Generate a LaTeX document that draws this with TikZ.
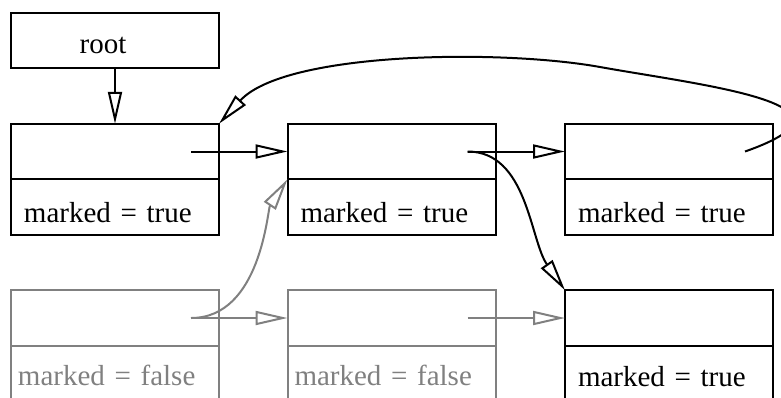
\documentclass[tikz,border=0pt]{standalone}
\usepackage{fontspec}
\setmainfont{Liberation Serif}
\usetikzlibrary{arrows.meta}
\definecolor{oldgray}{RGB}{128,128,128}
\tikzset{>={Triangle[open,length=16pt,width=7pt]}}
\tikzset{
  cell/.style={draw, line width=1pt, minimum width=104pt, minimum height=27.75pt,
    inner sep=0pt, outer sep=0pt, font=\fontsize{14.5pt}{17pt}\selectfont},
  val/.style={cell, anchor=north, text width=91pt, inner xsep=6.5pt, align=left,
    text height=15pt, text depth=0pt},
  oldval/.style={val, text width=97pt, inner xsep=3.5pt, text height=11.5pt},
  ptr/.style={->, line width=1pt}
}

\begin{document}
\begin{tikzpicture}[x=0.5pt,y=-0.5pt]
    \useasboundingbox (0,0) rectangle (781,397);
    \clip (0,0) rectangle (781,397);
    % root
    \node[cell, text height=12.5pt, text depth=0pt] (root) at (115,40.5)
      {\hspace*{-12pt}root};
    % live list
    \node[cell] (n1) at (115,151.5) {};
    \node[val] (n1v) at (n1.south) {marked = true};
    \node[cell] (n2) at (391.5,151.5) {};
    \node[val] (n2v) at (n2.south) {marked = true};
    \node[cell] (n3) at (669,151.5) {};
    \node[val] (n3v) at (n3.south) {marked = true};
    \node[cell] (n4) at (669,318) {};
    \node[val, text height=13pt] (n4v) at (n4.south) {marked = true};
    % old cells
    \begin{scope}[oldgray]
    \node[cell] (g1) at (115,318) {};
    \node[oldval] (g1v) at (g1.south) {marked = false};
    \node[cell] (g2) at (391.5,318) {};
    \node[oldval] (g2v) at (g2.south) {marked = false};
    \draw[ptr] ([xshift=-14pt]g1.east) -- (g2.west);
    \draw[ptr] ([xshift=-14pt]g2.east) -- (n4.west);
    \draw[ptr] ([xshift=-14pt]g1.east) .. controls +(70,0) and +(-20,30) .. (n2.south west);
    \end{scope}
    % pointers
    \draw[ptr] (root) -- (n1);
    \draw[ptr] ([xshift=-14pt]n1.east) -- (n2.west);
    \draw[ptr] ([xshift=-14pt]n2.east) -- (n3.west);
    \draw[ptr] ([xshift=-14pt]n2.east) .. controls +(60,0) and +(-35,-50) .. (n4.north west);
    \draw[ptr] ([xshift=-14pt]n3.east) .. controls +(134,-47) and +(100,18) .. (600,67)
      .. controls +(-100,-18) and +(66,-72) .. (n1.north east);
\end{tikzpicture}
\end{document}
